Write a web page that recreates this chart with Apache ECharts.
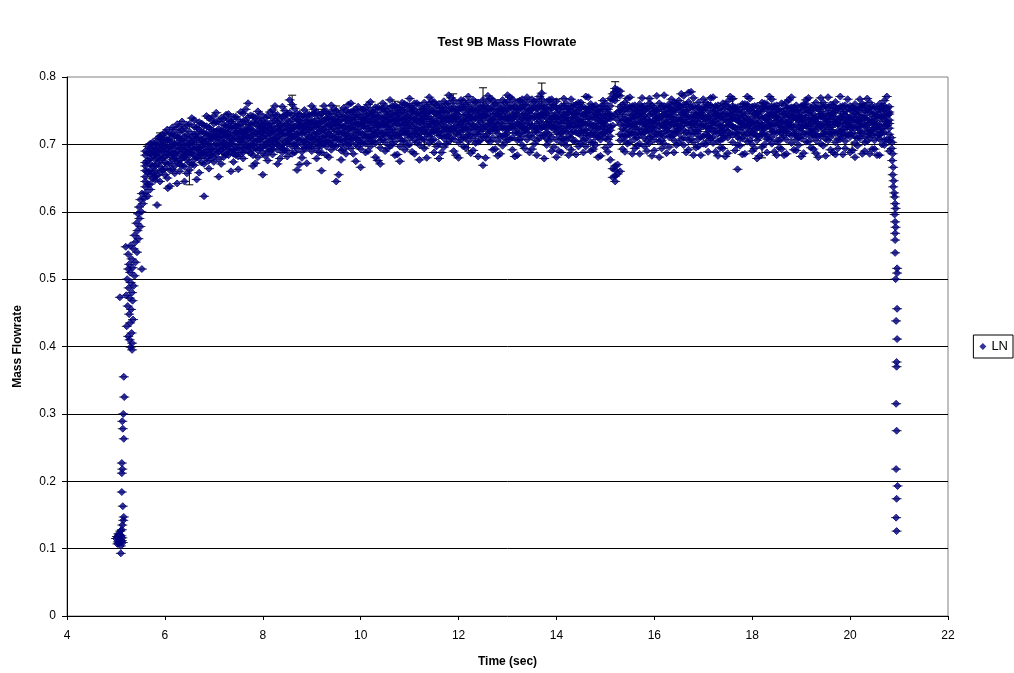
<!DOCTYPE html>
<html>
<head>
<meta charset="utf-8">
<title>Test 9B Mass Flowrate</title>
<script src="https://cdn.jsdelivr.net/npm/echarts@6/dist/echarts.min.js"></script>
<style>
  html, body { margin: 0; padding: 0; background: #fff; }
  #chart { width: 1014px; height: 673px; }
</style>
</head>
<body>
<div id="chart"></div>
<script>
// Start-up transient: time (s) and mass flowrate while the flow comes up
const riseTimes = [
  5.00, 5.02, 5.03, 5.04, 5.05, 5.06, 5.07, 5.08, 5.09, 5.10, 5.10, 5.11, 5.12, 5.13, 5.14,
  5.12, 5.13, 5.15, 5.16, 5.14, 5.12, 5.12, 5.13, 5.12, 5.16, 5.14, 5.13, 5.15, 5.17, 5.16,
  5.33, 5.30, 5.33, 5.28, 5.25, 5.32, 5.22, 5.29, 5.35, 5.27, 5.31, 5.24, 5.34, 5.08, 5.28,
  5.21, 5.33, 5.26, 5.36, 5.30, 5.23, 5.38, 5.29, 5.53, 5.25, 5.34, 5.27, 5.40, 5.32, 5.25,
  5.43, 5.36, 5.20, 5.30, 5.40, 5.46, 5.38, 5.44, 5.50, 5.42, 5.48, 5.45, 5.52, 5.47, 5.55,
  5.50, 5.58, 5.53, 5.84, 6.06
];
const riseValues = [
  0.115, 0.118, 0.107, 0.110, 0.122, 0.108, 0.121, 0.113, 0.126, 0.104, 0.093, 0.119, 0.112, 0.116, 0.109,
  0.128, 0.135, 0.142, 0.147, 0.163, 0.184, 0.212, 0.218, 0.227, 0.263, 0.278, 0.289, 0.300, 0.325, 0.355,
  0.395, 0.399, 0.405, 0.410, 0.415, 0.420, 0.430, 0.435, 0.440, 0.448, 0.455, 0.460, 0.468, 0.473, 0.472,
  0.476, 0.480, 0.487, 0.490, 0.495, 0.500, 0.505, 0.510, 0.515, 0.515, 0.517, 0.522, 0.525, 0.530, 0.537,
  0.540, 0.545, 0.548, 0.550, 0.555, 0.560, 0.565, 0.572, 0.578, 0.583, 0.590, 0.597, 0.600, 0.607, 0.612,
  0.618, 0.620, 0.627, 0.610, 0.635
];

// Steady run, first pass of samples: [time (s), mass flowrate samples near that time]
const steadyRows = [
  [5.6, 0.628, 0.645, 0.661, 0.652, 0.673, 0.684, 0.637, 0.668, 0.690],
  [5.7, 0.641, 0.655, 0.679, 0.662, 0.694, 0.633, 0.686, 0.671, 0.701],
  [5.8, 0.652, 0.668, 0.690, 0.647, 0.677, 0.702, 0.685, 0.661, 0.698],
  [5.9, 0.659, 0.676, 0.693, 0.708, 0.684, 0.667, 0.701, 0.645, 0.712],
  [6.0, 0.664, 0.681, 0.697, 0.673, 0.710, 0.689, 0.655, 0.703, 0.718],
  [6.1, 0.672, 0.690, 0.662, 0.705, 0.684, 0.716, 0.696, 0.638, 0.708],
  [6.2, 0.668, 0.687, 0.701, 0.679, 0.713, 0.694, 0.657, 0.722, 0.683],
  [6.3, 0.676, 0.660, 0.695, 0.709, 0.686, 0.671, 0.718, 0.700, 0.727],
  [6.4, 0.681, 0.698, 0.667, 0.712, 0.690, 0.705, 0.645, 0.724, 0.684],
  [6.5, 0.673, 0.692, 0.708, 0.684, 0.719, 0.662, 0.701, 0.730, 0.688],
  [6.6, 0.684, 0.700, 0.669, 0.715, 0.693, 0.726, 0.706, 0.678, 0.736],
  [6.7, 0.679, 0.695, 0.711, 0.687, 0.722, 0.703, 0.658, 0.733, 0.691],
  [6.8, 0.688, 0.671, 0.704, 0.717, 0.696, 0.728, 0.683, 0.709, 0.623],
  [6.9, 0.685, 0.701, 0.676, 0.714, 0.693, 0.725, 0.708, 0.739, 0.664],
  [7.0, 0.690, 0.707, 0.681, 0.719, 0.698, 0.731, 0.712, 0.674, 0.742],
  [7.1, 0.694, 0.678, 0.710, 0.723, 0.701, 0.689, 0.734, 0.716, 0.652],
  [7.2, 0.687, 0.703, 0.720, 0.695, 0.729, 0.681, 0.711, 0.738, 0.699],
  [7.3, 0.697, 0.713, 0.684, 0.726, 0.705, 0.692, 0.736, 0.718, 0.745],
  [7.4, 0.692, 0.708, 0.724, 0.686, 0.715, 0.731, 0.700, 0.674, 0.741],
  [7.5, 0.699, 0.682, 0.716, 0.728, 0.707, 0.694, 0.737, 0.720, 0.663],
  [7.6, 0.695, 0.711, 0.688, 0.723, 0.734, 0.703, 0.717, 0.746, 0.679],
  [7.7, 0.701, 0.717, 0.690, 0.729, 0.709, 0.740, 0.696, 0.722, 0.761],
  [7.8, 0.693, 0.706, 0.721, 0.684, 0.733, 0.714, 0.699, 0.742, 0.668],
  [7.9, 0.700, 0.715, 0.691, 0.727, 0.708, 0.738, 0.720, 0.681, 0.749],
  [8.0, 0.696, 0.712, 0.728, 0.687, 0.719, 0.704, 0.735, 0.724, 0.655],
  [8.1, 0.703, 0.690, 0.718, 0.731, 0.709, 0.742, 0.697, 0.725, 0.676],
  [8.2, 0.698, 0.714, 0.685, 0.727, 0.706, 0.739, 0.720, 0.693, 0.751],
  [8.3, 0.705, 0.720, 0.692, 0.733, 0.711, 0.700, 0.744, 0.726, 0.671],
  [8.4, 0.699, 0.716, 0.731, 0.688, 0.722, 0.708, 0.741, 0.694, 0.756],
  [8.5, 0.706, 0.691, 0.723, 0.736, 0.713, 0.701, 0.745, 0.728, 0.682],
  [8.6, 0.702, 0.719, 0.686, 0.730, 0.711, 0.743, 0.724, 0.697, 0.759],
  [8.7, 0.708, 0.724, 0.694, 0.737, 0.715, 0.700, 0.746, 0.729, 0.662],
  [8.8, 0.700, 0.717, 0.732, 0.689, 0.723, 0.708, 0.741, 0.726, 0.680],
  [8.9, 0.707, 0.722, 0.695, 0.735, 0.714, 0.745, 0.702, 0.730, 0.672],
  [9.0, 0.703, 0.718, 0.733, 0.690, 0.725, 0.709, 0.744, 0.697, 0.757],
  [9.1, 0.709, 0.694, 0.726, 0.738, 0.716, 0.748, 0.702, 0.731, 0.679],
  [9.2, 0.705, 0.721, 0.688, 0.734, 0.712, 0.745, 0.727, 0.698, 0.661],
  [9.3, 0.710, 0.726, 0.697, 0.739, 0.718, 0.704, 0.749, 0.732, 0.684],
  [9.4, 0.706, 0.722, 0.736, 0.692, 0.728, 0.713, 0.746, 0.700, 0.758],
  [9.5, 0.711, 0.697, 0.729, 0.741, 0.719, 0.706, 0.750, 0.733, 0.645],
  [9.6, 0.707, 0.724, 0.691, 0.737, 0.715, 0.748, 0.729, 0.700, 0.677],
  [9.7, 0.713, 0.728, 0.699, 0.742, 0.720, 0.707, 0.751, 0.735, 0.686],
  [9.8, 0.708, 0.725, 0.739, 0.694, 0.731, 0.716, 0.748, 0.702, 0.761],
  [9.9, 0.714, 0.700, 0.731, 0.744, 0.722, 0.709, 0.752, 0.737, 0.675],
  [10.0, 0.710, 0.727, 0.693, 0.740, 0.718, 0.750, 0.733, 0.703, 0.666],
  [10.1, 0.715, 0.731, 0.701, 0.745, 0.724, 0.710, 0.754, 0.738, 0.688],
  [10.2, 0.711, 0.728, 0.742, 0.697, 0.734, 0.719, 0.751, 0.705, 0.763],
  [10.3, 0.716, 0.702, 0.733, 0.747, 0.725, 0.712, 0.755, 0.739, 0.681],
  [10.4, 0.712, 0.729, 0.695, 0.743, 0.721, 0.752, 0.736, 0.706, 0.671],
  [10.5, 0.717, 0.733, 0.703, 0.748, 0.726, 0.713, 0.757, 0.741, 0.690],
  [10.6, 0.713, 0.730, 0.745, 0.698, 0.737, 0.722, 0.754, 0.708, 0.766],
  [10.7, 0.718, 0.704, 0.735, 0.750, 0.728, 0.714, 0.758, 0.742, 0.684],
  [10.8, 0.714, 0.731, 0.697, 0.746, 0.723, 0.755, 0.739, 0.709, 0.675],
  [10.9, 0.719, 0.736, 0.705, 0.751, 0.729, 0.716, 0.760, 0.744, 0.692],
  [11.0, 0.715, 0.732, 0.748, 0.700, 0.739, 0.724, 0.757, 0.710, 0.768],
  [11.1, 0.720, 0.706, 0.737, 0.752, 0.730, 0.717, 0.761, 0.745, 0.686],
  [11.2, 0.716, 0.733, 0.699, 0.748, 0.725, 0.758, 0.741, 0.711, 0.677],
  [11.3, 0.721, 0.737, 0.707, 0.753, 0.731, 0.718, 0.762, 0.746, 0.694],
  [11.4, 0.717, 0.734, 0.749, 0.702, 0.741, 0.726, 0.759, 0.712, 0.770],
  [11.5, 0.722, 0.707, 0.738, 0.754, 0.732, 0.719, 0.763, 0.747, 0.688],
  [11.6, 0.718, 0.735, 0.701, 0.750, 0.727, 0.760, 0.743, 0.713, 0.679],
  [11.7, 0.723, 0.739, 0.709, 0.755, 0.733, 0.720, 0.764, 0.748, 0.696],
  [11.8, 0.719, 0.736, 0.751, 0.704, 0.742, 0.727, 0.761, 0.714, 0.773],
  [11.9, 0.724, 0.708, 0.740, 0.756, 0.734, 0.721, 0.765, 0.749, 0.690],
  [12.0, 0.720, 0.737, 0.703, 0.751, 0.728, 0.761, 0.744, 0.714, 0.680],
  [12.1, 0.725, 0.741, 0.710, 0.756, 0.735, 0.722, 0.765, 0.750, 0.697],
  [12.2, 0.721, 0.738, 0.752, 0.705, 0.744, 0.729, 0.762, 0.715, 0.771],
  [12.3, 0.726, 0.709, 0.741, 0.757, 0.736, 0.722, 0.766, 0.750, 0.691],
  [12.4, 0.722, 0.738, 0.704, 0.752, 0.729, 0.762, 0.745, 0.715, 0.682],
  [12.5, 0.726, 0.742, 0.711, 0.757, 0.736, 0.723, 0.766, 0.751, 0.669],
  [12.6, 0.722, 0.739, 0.753, 0.706, 0.745, 0.730, 0.763, 0.716, 0.772],
  [12.7, 0.726, 0.710, 0.742, 0.757, 0.737, 0.723, 0.766, 0.751, 0.692],
  [12.8, 0.722, 0.739, 0.705, 0.752, 0.730, 0.762, 0.745, 0.716, 0.683],
  [12.9, 0.727, 0.742, 0.712, 0.757, 0.737, 0.724, 0.766, 0.751, 0.698],
  [13.0, 0.723, 0.739, 0.754, 0.707, 0.745, 0.731, 0.763, 0.717, 0.773],
  [13.1, 0.727, 0.710, 0.742, 0.758, 0.737, 0.724, 0.767, 0.752, 0.692],
  [13.2, 0.723, 0.740, 0.706, 0.753, 0.731, 0.763, 0.746, 0.717, 0.684],
  [13.3, 0.727, 0.743, 0.712, 0.758, 0.738, 0.725, 0.767, 0.752, 0.699],
  [13.4, 0.723, 0.740, 0.754, 0.707, 0.746, 0.731, 0.763, 0.718, 0.770],
  [13.5, 0.728, 0.711, 0.743, 0.758, 0.738, 0.725, 0.767, 0.752, 0.693],
  [13.6, 0.724, 0.740, 0.706, 0.753, 0.731, 0.763, 0.746, 0.718, 0.684],
  [13.7, 0.728, 0.744, 0.713, 0.758, 0.738, 0.725, 0.767, 0.752, 0.776],
  [13.8, 0.724, 0.740, 0.754, 0.708, 0.746, 0.732, 0.763, 0.718, 0.699],
  [13.9, 0.728, 0.711, 0.743, 0.759, 0.738, 0.725, 0.767, 0.753, 0.690],
  [14.0, 0.724, 0.741, 0.707, 0.754, 0.732, 0.764, 0.747, 0.718, 0.681],
  [14.1, 0.731, 0.716, 0.748, 0.702, 0.739, 0.757, 0.724, 0.709, 0.688],
  [14.2, 0.719, 0.744, 0.735, 0.761, 0.706, 0.727, 0.752, 0.698, 0.740],
  [14.3, 0.738, 0.710, 0.725, 0.749, 0.717, 0.756, 0.733, 0.692, 0.767],
  [14.4, 0.726, 0.751, 0.704, 0.741, 0.732, 0.718, 0.759, 0.745, 0.685],
  [14.5, 0.713, 0.737, 0.755, 0.728, 0.701, 0.746, 0.720, 0.762, 0.734],
  [14.6, 0.742, 0.721, 0.708, 0.753, 0.730, 0.716, 0.747, 0.697, 0.771],
  [14.7, 0.729, 0.755, 0.714, 0.737, 0.703, 0.748, 0.723, 0.760, 0.690],
  [14.8, 0.717, 0.740, 0.731, 0.758, 0.711, 0.726, 0.751, 0.699, 0.744],
  [14.9, 0.735, 0.707, 0.749, 0.722, 0.739, 0.756, 0.714, 0.731, 0.683],
  [15.0, 0.724, 0.752, 0.709, 0.743, 0.730, 0.718, 0.761, 0.736, 0.695],
  [15.1, 0.712, 0.738, 0.757, 0.726, 0.700, 0.745, 0.721, 0.677, 0.768],
  [15.2, 0.744, 0.765, 0.778, 0.783, 0.771, 0.662, 0.653, 0.668, 0.645],
  [15.3, 0.730, 0.756, 0.772, 0.779, 0.715, 0.741, 0.706, 0.660, 0.750],
  [15.4, 0.721, 0.744, 0.705, 0.737, 0.753, 0.728, 0.712, 0.762, 0.689],
  [15.5, 0.738, 0.714, 0.749, 0.727, 0.703, 0.756, 0.733, 0.719, 0.770],
  [15.6, 0.726, 0.751, 0.708, 0.740, 0.731, 0.715, 0.758, 0.694, 0.745],
  [15.7, 0.715, 0.739, 0.754, 0.722, 0.746, 0.701, 0.733, 0.760, 0.686],
  [15.8, 0.742, 0.718, 0.730, 0.757, 0.709, 0.736, 0.724, 0.750, 0.697],
  [15.9, 0.729, 0.753, 0.711, 0.744, 0.720, 0.761, 0.702, 0.735, 0.768],
  [16.0, 0.718, 0.736, 0.749, 0.707, 0.731, 0.755, 0.724, 0.691, 0.742],
  [16.1, 0.740, 0.713, 0.727, 0.752, 0.704, 0.738, 0.761, 0.719, 0.681],
  [16.2, 0.725, 0.749, 0.736, 0.712, 0.757, 0.701, 0.730, 0.745, 0.773],
  [16.3, 0.711, 0.733, 0.755, 0.726, 0.741, 0.718, 0.760, 0.696, 0.748],
  [16.4, 0.737, 0.720, 0.706, 0.750, 0.729, 0.744, 0.714, 0.762, 0.688],
  [16.5, 0.723, 0.754, 0.740, 0.716, 0.734, 0.702, 0.758, 0.727, 0.765],
  [16.6, 0.745, 0.710, 0.731, 0.759, 0.721, 0.748, 0.737, 0.699, 0.772],
  [16.7, 0.728, 0.752, 0.715, 0.741, 0.763, 0.706, 0.734, 0.777, 0.692],
  [16.8, 0.716, 0.739, 0.757, 0.725, 0.703, 0.747, 0.731, 0.769, 0.684],
  [16.9, 0.742, 0.722, 0.734, 0.708, 0.755, 0.719, 0.746, 0.762, 0.697],
  [17.0, 0.730, 0.756, 0.712, 0.744, 0.727, 0.739, 0.701, 0.751, 0.767],
  [17.1, 0.719, 0.735, 0.750, 0.706, 0.742, 0.724, 0.759, 0.713, 0.689],
  [17.2, 0.738, 0.711, 0.728, 0.754, 0.733, 0.748, 0.719, 0.702, 0.770],
  [17.3, 0.724, 0.747, 0.739, 0.716, 0.758, 0.730, 0.705, 0.743, 0.683],
  [17.4, 0.713, 0.736, 0.752, 0.727, 0.744, 0.708, 0.761, 0.721, 0.694],
  [17.5, 0.741, 0.720, 0.733, 0.756, 0.710, 0.746, 0.728, 0.764, 0.687],
  [17.6, 0.727, 0.751, 0.714, 0.738, 0.726, 0.757, 0.703, 0.744, 0.768],
  [17.7, 0.716, 0.740, 0.755, 0.722, 0.735, 0.711, 0.749, 0.699, 0.663],
  [17.8, 0.743, 0.725, 0.709, 0.748, 0.731, 0.760, 0.718, 0.736, 0.685],
  [17.9, 0.729, 0.754, 0.737, 0.715, 0.746, 0.704, 0.759, 0.724, 0.771],
  [18.0, 0.718, 0.733, 0.750, 0.727, 0.741, 0.713, 0.756, 0.700, 0.690],
  [18.1, 0.739, 0.712, 0.745, 0.724, 0.757, 0.731, 0.706, 0.748, 0.679],
  [18.2, 0.726, 0.749, 0.716, 0.738, 0.729, 0.754, 0.721, 0.762, 0.696],
  [18.3, 0.714, 0.737, 0.753, 0.708, 0.743, 0.726, 0.760, 0.732, 0.688],
  [18.4, 0.742, 0.723, 0.730, 0.756, 0.711, 0.747, 0.719, 0.701, 0.767],
  [18.5, 0.728, 0.752, 0.740, 0.717, 0.735, 0.758, 0.705, 0.745, 0.684],
  [18.6, 0.717, 0.734, 0.749, 0.726, 0.761, 0.710, 0.742, 0.722, 0.693],
  [18.7, 0.740, 0.719, 0.707, 0.753, 0.732, 0.746, 0.726, 0.763, 0.686],
  [18.8, 0.725, 0.748, 0.736, 0.713, 0.755, 0.729, 0.702, 0.741, 0.770],
  [18.9, 0.713, 0.738, 0.751, 0.729, 0.744, 0.716, 0.758, 0.707, 0.691],
  [19.0, 0.741, 0.724, 0.733, 0.757, 0.709, 0.748, 0.720, 0.736, 0.682],
  [19.1, 0.727, 0.753, 0.715, 0.740, 0.728, 0.760, 0.704, 0.747, 0.766],
  [19.2, 0.718, 0.736, 0.750, 0.723, 0.743, 0.711, 0.755, 0.731, 0.695],
  [19.3, 0.739, 0.714, 0.729, 0.754, 0.734, 0.720, 0.706, 0.762, 0.687],
  [19.4, 0.726, 0.749, 0.741, 0.712, 0.757, 0.730, 0.745, 0.701, 0.769],
  [19.5, 0.715, 0.733, 0.756, 0.728, 0.719, 0.746, 0.708, 0.738, 0.683],
  [19.6, 0.743, 0.722, 0.711, 0.750, 0.737, 0.725, 0.759, 0.716, 0.692],
  [19.7, 0.730, 0.754, 0.738, 0.717, 0.748, 0.703, 0.733, 0.763, 0.685],
  [19.8, 0.719, 0.741, 0.727, 0.752, 0.714, 0.739, 0.756, 0.708, 0.771],
  [19.9, 0.737, 0.713, 0.749, 0.731, 0.722, 0.758, 0.705, 0.744, 0.694],
  [20.0, 0.725, 0.751, 0.716, 0.740, 0.735, 0.711, 0.757, 0.729, 0.688],
  [20.1, 0.712, 0.736, 0.753, 0.724, 0.746, 0.733, 0.702, 0.760, 0.681],
  [20.2, 0.740, 0.721, 0.734, 0.755, 0.709, 0.748, 0.727, 0.717, 0.767],
  [20.3, 0.728, 0.750, 0.712, 0.739, 0.726, 0.758, 0.743, 0.703, 0.690],
  [20.4, 0.716, 0.737, 0.748, 0.721, 0.754, 0.710, 0.732, 0.762, 0.686],
  [20.5, 0.741, 0.725, 0.706, 0.747, 0.735, 0.719, 0.756, 0.730, 0.693],
  [20.6, 0.729, 0.753, 0.739, 0.714, 0.744, 0.760, 0.708, 0.722, 0.684],
  [20.7, 0.718, 0.734, 0.751, 0.727, 0.707, 0.742, 0.757, 0.699, 0.765],
  [20.8, 0.736, 0.715, 0.745, 0.724, 0.756, 0.705, 0.731, 0.690, 0.748]
];

// Steady run, samples falling between the rows above
const steadyRowsB = [
  [5.65, 0.641, 0.688, 0.659, 0.676, 0.623, 0.697],
  [5.75, 0.668, 0.649, 0.703, 0.684, 0.657, 0.692],
  [5.85, 0.695, 0.672, 0.709, 0.654, 0.688, 0.681],
  [5.95, 0.679, 0.714, 0.662, 0.699, 0.690, 0.707],
  [6.05, 0.706, 0.685, 0.671, 0.722, 0.694, 0.650],
  [6.15, 0.678, 0.715, 0.699, 0.687, 0.725, 0.663],
  [6.25, 0.702, 0.689, 0.730, 0.674, 0.711, 0.642],
  [6.35, 0.693, 0.721, 0.680, 0.706, 0.668, 0.734],
  [6.45, 0.714, 0.677, 0.698, 0.729, 0.688, 0.657],
  [6.55, 0.687, 0.711, 0.739, 0.670, 0.703, 0.695],
  [6.65, 0.709, 0.694, 0.680, 0.725, 0.716, 0.648],
  [6.75, 0.697, 0.731, 0.706, 0.685, 0.719, 0.673],
  [6.85, 0.716, 0.689, 0.727, 0.701, 0.742, 0.679],
  [6.95, 0.693, 0.722, 0.708, 0.736, 0.684, 0.713],
  [7.05, 0.719, 0.700, 0.686, 0.733, 0.710, 0.747],
  [7.15, 0.706, 0.739, 0.692, 0.721, 0.715, 0.671],
  [7.25, 0.728, 0.698, 0.712, 0.685, 0.744, 0.719],
  [7.35, 0.701, 0.725, 0.690, 0.734, 0.708, 0.660],
  [7.45, 0.717, 0.693, 0.741, 0.709, 0.726, 0.684],
  [7.55, 0.730, 0.704, 0.719, 0.688, 0.748, 0.712],
  [7.65, 0.709, 0.735, 0.696, 0.722, 0.714, 0.752],
  [7.75, 0.723, 0.698, 0.743, 0.711, 0.687, 0.729],
  [7.85, 0.704, 0.731, 0.716, 0.739, 0.695, 0.672],
  [7.95, 0.726, 0.708, 0.694, 0.745, 0.718, 0.733],
  [8.05, 0.713, 0.740, 0.722, 0.699, 0.731, 0.683],
  [8.15, 0.731, 0.705, 0.748, 0.716, 0.690, 0.724],
  [8.25, 0.709, 0.735, 0.720, 0.744, 0.702, 0.757],
  [8.35, 0.727, 0.714, 0.697, 0.738, 0.721, 0.679],
  [8.45, 0.716, 0.743, 0.728, 0.703, 0.750, 0.691],
  [8.55, 0.734, 0.708, 0.721, 0.747, 0.715, 0.766],
  [8.65, 0.712, 0.739, 0.700, 0.726, 0.753, 0.688],
  [8.75, 0.729, 0.717, 0.745, 0.706, 0.735, 0.670],
  [8.85, 0.718, 0.741, 0.727, 0.751, 0.704, 0.694],
  [8.95, 0.736, 0.711, 0.723, 0.697, 0.744, 0.730],
  [9.05, 0.715, 0.746, 0.733, 0.708, 0.725, 0.752],
  [9.15, 0.731, 0.706, 0.719, 0.743, 0.699, 0.688],
  [9.25, 0.722, 0.749, 0.712, 0.736, 0.757, 0.701],
  [9.35, 0.740, 0.716, 0.729, 0.703, 0.745, 0.681],
  [9.45, 0.711, 0.737, 0.752, 0.724, 0.698, 0.733],
  [9.55, 0.728, 0.707, 0.744, 0.718, 0.735, 0.655],
  [9.65, 0.717, 0.741, 0.726, 0.754, 0.705, 0.692],
  [9.75, 0.735, 0.712, 0.700, 0.747, 0.723, 0.759],
  [9.85, 0.723, 0.750, 0.731, 0.709, 0.740, 0.686],
  [9.95, 0.706, 0.729, 0.744, 0.718, 0.756, 0.697],
  [10.05, 0.739, 0.715, 0.727, 0.752, 0.702, 0.733],
  [10.15, 0.724, 0.746, 0.710, 0.736, 0.759, 0.690],
  [10.25, 0.712, 0.733, 0.748, 0.721, 0.704, 0.742],
  [10.35, 0.741, 0.718, 0.730, 0.755, 0.727, 0.676],
  [10.45, 0.729, 0.753, 0.707, 0.738, 0.716, 0.761],
  [10.55, 0.717, 0.740, 0.726, 0.749, 0.733, 0.694],
  [10.65, 0.744, 0.722, 0.711, 0.757, 0.735, 0.700],
  [10.75, 0.731, 0.755, 0.738, 0.714, 0.747, 0.685],
  [10.85, 0.720, 0.737, 0.751, 0.728, 0.705, 0.762],
  [10.95, 0.742, 0.716, 0.733, 0.758, 0.724, 0.698],
  [11.05, 0.727, 0.749, 0.712, 0.739, 0.754, 0.689],
  [11.15, 0.714, 0.735, 0.746, 0.723, 0.761, 0.703],
  [11.25, 0.738, 0.721, 0.708, 0.752, 0.731, 0.744],
  [11.35, 0.726, 0.756, 0.741, 0.715, 0.747, 0.680],
  [11.45, 0.717, 0.734, 0.750, 0.729, 0.706, 0.764],
  [11.55, 0.745, 0.719, 0.732, 0.758, 0.724, 0.697],
  [11.65, 0.730, 0.754, 0.713, 0.740, 0.749, 0.688],
  [11.75, 0.712, 0.736, 0.747, 0.725, 0.760, 0.701],
  [11.85, 0.741, 0.722, 0.709, 0.753, 0.734, 0.769],
  [11.95, 0.728, 0.751, 0.739, 0.716, 0.745, 0.684],
  [12.05, 0.718, 0.733, 0.755, 0.730, 0.707, 0.766],
  [12.15, 0.744, 0.724, 0.735, 0.759, 0.711, 0.695],
  [12.25, 0.731, 0.748, 0.714, 0.740, 0.753, 0.687],
  [12.35, 0.715, 0.739, 0.750, 0.726, 0.763, 0.702],
  [12.45, 0.742, 0.719, 0.706, 0.755, 0.733, 0.746],
  [12.55, 0.727, 0.757, 0.743, 0.712, 0.749, 0.680],
  [12.65, 0.719, 0.735, 0.752, 0.731, 0.704, 0.768],
  [12.75, 0.746, 0.721, 0.733, 0.760, 0.726, 0.693],
  [12.85, 0.732, 0.753, 0.711, 0.741, 0.748, 0.686],
  [12.95, 0.714, 0.738, 0.749, 0.723, 0.762, 0.703],
  [13.05, 0.740, 0.725, 0.708, 0.754, 0.735, 0.770],
  [13.15, 0.729, 0.756, 0.742, 0.717, 0.747, 0.682],
  [13.25, 0.716, 0.733, 0.753, 0.729, 0.707, 0.765],
  [13.35, 0.745, 0.720, 0.736, 0.759, 0.723, 0.694],
  [13.45, 0.731, 0.751, 0.713, 0.739, 0.750, 0.688],
  [13.55, 0.718, 0.740, 0.755, 0.725, 0.764, 0.701],
  [13.65, 0.743, 0.722, 0.709, 0.757, 0.734, 0.771],
  [13.75, 0.727, 0.755, 0.744, 0.714, 0.748, 0.679],
  [13.85, 0.715, 0.734, 0.751, 0.730, 0.705, 0.766],
  [13.95, 0.742, 0.723, 0.737, 0.758, 0.727, 0.696],
  [14.05, 0.733, 0.752, 0.715, 0.741, 0.724, 0.690],
  [14.15, 0.720, 0.744, 0.757, 0.708, 0.736, 0.768],
  [14.25, 0.747, 0.726, 0.712, 0.753, 0.731, 0.684],
  [14.35, 0.729, 0.758, 0.740, 0.719, 0.705, 0.745],
  [14.45, 0.716, 0.735, 0.751, 0.727, 0.762, 0.697],
  [14.55, 0.744, 0.721, 0.706, 0.756, 0.733, 0.688],
  [14.65, 0.730, 0.753, 0.739, 0.713, 0.748, 0.770],
  [14.75, 0.718, 0.742, 0.756, 0.728, 0.703, 0.693],
  [14.85, 0.745, 0.724, 0.711, 0.750, 0.736, 0.681],
  [14.95, 0.732, 0.757, 0.743, 0.716, 0.727, 0.765],
  [15.05, 0.719, 0.738, 0.752, 0.707, 0.746, 0.689],
  [15.15, 0.741, 0.766, 0.775, 0.728, 0.664, 0.651],
  [15.25, 0.748, 0.773, 0.781, 0.736, 0.656, 0.670],
  [15.35, 0.723, 0.749, 0.735, 0.712, 0.759, 0.693],
  [15.45, 0.736, 0.714, 0.754, 0.729, 0.701, 0.768],
  [15.55, 0.717, 0.743, 0.727, 0.757, 0.738, 0.686],
  [15.65, 0.744, 0.722, 0.710, 0.751, 0.732, 0.698],
  [15.75, 0.731, 0.756, 0.741, 0.716, 0.748, 0.769],
  [15.85, 0.720, 0.737, 0.753, 0.727, 0.705, 0.690],
  [15.95, 0.746, 0.725, 0.712, 0.758, 0.733, 0.683],
  [16.05, 0.733, 0.751, 0.739, 0.715, 0.745, 0.772],
  [16.15, 0.716, 0.742, 0.757, 0.729, 0.706, 0.694],
  [16.25, 0.743, 0.720, 0.733, 0.754, 0.724, 0.687],
  [16.35, 0.730, 0.756, 0.712, 0.740, 0.749, 0.767],
  [16.45, 0.719, 0.735, 0.752, 0.727, 0.761, 0.699],
  [16.55, 0.747, 0.726, 0.708, 0.755, 0.737, 0.775],
  [16.65, 0.732, 0.759, 0.743, 0.718, 0.750, 0.688],
  [16.75, 0.721, 0.740, 0.756, 0.731, 0.708, 0.778],
  [16.85, 0.744, 0.716, 0.729, 0.753, 0.735, 0.695],
  [16.95, 0.728, 0.752, 0.741, 0.711, 0.747, 0.684],
  [17.05, 0.715, 0.737, 0.755, 0.726, 0.762, 0.700],
  [17.15, 0.742, 0.724, 0.709, 0.758, 0.731, 0.769],
  [17.25, 0.734, 0.757, 0.745, 0.719, 0.750, 0.689],
  [17.35, 0.718, 0.741, 0.728, 0.754, 0.706, 0.695],
  [17.45, 0.746, 0.722, 0.737, 0.759, 0.713, 0.682],
  [17.55, 0.729, 0.753, 0.716, 0.744, 0.736, 0.771],
  [17.65, 0.717, 0.738, 0.755, 0.725, 0.748, 0.691],
  [17.75, 0.743, 0.727, 0.708, 0.752, 0.733, 0.698],
  [17.85, 0.731, 0.756, 0.740, 0.714, 0.760, 0.686],
  [17.95, 0.720, 0.735, 0.751, 0.729, 0.706, 0.768],
  [18.05, 0.745, 0.723, 0.733, 0.757, 0.716, 0.694],
  [18.15, 0.732, 0.750, 0.711, 0.742, 0.727, 0.683],
  [18.25, 0.715, 0.739, 0.756, 0.724, 0.761, 0.700],
  [18.35, 0.744, 0.728, 0.707, 0.753, 0.735, 0.771],
  [18.45, 0.730, 0.757, 0.741, 0.718, 0.748, 0.689],
  [18.55, 0.719, 0.736, 0.752, 0.729, 0.705, 0.695],
  [18.65, 0.746, 0.721, 0.734, 0.758, 0.713, 0.684],
  [18.75, 0.733, 0.754, 0.716, 0.743, 0.727, 0.766],
  [18.85, 0.716, 0.740, 0.755, 0.722, 0.749, 0.692],
  [18.95, 0.742, 0.726, 0.710, 0.751, 0.736, 0.699],
  [19.05, 0.729, 0.756, 0.739, 0.715, 0.759, 0.687],
  [19.15, 0.718, 0.734, 0.750, 0.728, 0.704, 0.769],
  [19.25, 0.745, 0.723, 0.737, 0.757, 0.714, 0.693],
  [19.35, 0.731, 0.752, 0.712, 0.741, 0.726, 0.681],
  [19.45, 0.716, 0.739, 0.756, 0.723, 0.762, 0.698],
  [19.55, 0.743, 0.729, 0.706, 0.754, 0.734, 0.770],
  [19.65, 0.730, 0.758, 0.742, 0.717, 0.747, 0.688],
  [19.75, 0.720, 0.735, 0.753, 0.730, 0.708, 0.694],
  [19.85, 0.746, 0.722, 0.733, 0.757, 0.715, 0.685],
  [19.95, 0.732, 0.754, 0.714, 0.740, 0.727, 0.767],
  [20.05, 0.717, 0.741, 0.755, 0.725, 0.750, 0.691],
  [20.15, 0.744, 0.726, 0.709, 0.752, 0.735, 0.698],
  [20.25, 0.731, 0.757, 0.740, 0.716, 0.760, 0.686],
  [20.35, 0.719, 0.736, 0.751, 0.728, 0.705, 0.768],
  [20.45, 0.745, 0.722, 0.734, 0.756, 0.693, 0.714],
  [20.55, 0.730, 0.753, 0.713, 0.742, 0.727, 0.684],
  [20.65, 0.717, 0.740, 0.757, 0.723, 0.749, 0.700],
  [20.75, 0.743, 0.728, 0.707, 0.754, 0.734, 0.771]
];

// Shut-down transient
const dropTimes = [
  20.84, 20.86, 20.85, 20.87, 20.86, 20.88, 20.87, 20.89, 20.88, 20.90, 20.91, 20.92,
  20.93, 20.91, 20.92, 20.93, 20.92, 20.92, 20.92, 20.96, 20.96, 20.93, 20.96, 20.94,
  20.96, 20.95, 20.95, 20.94, 20.95, 20.94, 20.97, 20.95, 20.94, 20.95
];
const dropValues = [
  0.710, 0.703, 0.694, 0.686, 0.676, 0.666, 0.655, 0.646, 0.637, 0.628, 0.622, 0.612,
  0.605, 0.596, 0.585, 0.577, 0.568, 0.558, 0.539, 0.516, 0.509, 0.500, 0.456, 0.438,
  0.411, 0.377, 0.370, 0.315, 0.275, 0.218, 0.193, 0.174, 0.146, 0.126
];

// Samples whose error bars reach past the cloud: time, value, end of the bar
const errTimes = [5.90, 6.19, 6.50, 8.60, 9.21, 9.50, 10.70, 11.30, 11.89, 12.20, 12.50, 13.70, 14.00, 14.30, 14.75, 15.20, 17.60, 18.20, 20.04];
const errValues = [0.704, 0.703, 0.663, 0.752, 0.738, 0.741, 0.750, 0.710, 0.756, 0.705, 0.757, 0.758, 0.754, 0.700, 0.703, 0.783, 0.757, 0.700, 0.705];
const errEnds = [0.717, 0.714, 0.640, 0.773, 0.752, 0.757, 0.764, 0.696, 0.775, 0.690, 0.784, 0.791, 0.767, 0.687, 0.690, 0.793, 0.767, 0.680, 0.692];

const xTicks = { min: 4, max: 22, step: 2 };
const yTicks = { min: 0, max: 0.8, step: 0.1 };

// Assemble [time, value] pairs
const points = [];
riseTimes.forEach((t, i) => points.push([t, riseValues[i]]));
[steadyRows, steadyRowsB].forEach(rows => rows.forEach(row => {
  for (let k = 1; k < row.length; k++) points.push([row[0], row[k]]);
}));
dropTimes.forEach((t, i) => points.push([t, dropValues[i]]));

const errData = errTimes.map((t, i) => [t, errValues[i], errEnds[i]]);

const FONT = 'Arial, "Liberation Sans", Helvetica, sans-serif';
const NAVY = '#000080';
const chart = echarts.init(document.getElementById('chart'), null, { renderer: 'canvas' });

chart.setOption({
  animation: false,
  backgroundColor: '#ffffff',
  textStyle: { fontFamily: FONT, color: '#000' },
  title: {
    text: 'Test 9B Mass Flowrate',
    left: 'center',
    top: 31,
    textStyle: { fontFamily: FONT, fontSize: 13, fontWeight: 'bold', color: '#000' }
  },
  legend: {
    data: [{ name: 'LN', icon: 'diamond' }],
    right: 1,
    top: 335,
    orient: 'vertical',
    backgroundColor: '#fff',
    borderColor: '#000',
    borderWidth: 1,
    borderRadius: 0,
    padding: [5, 5, 5, 6],
    itemWidth: 7,
    itemHeight: 7,
    itemStyle: { color: NAVY, borderWidth: 0 },
    textStyle: { fontFamily: FONT, fontSize: 13, color: '#000' }
  },
  grid: {
    left: 67,
    right: 66,
    top: 77,
    bottom: 57,
    show: true,
    borderColor: '#808080',
    borderWidth: 1,
    backgroundColor: 'transparent'
  },
  xAxis: {
    type: 'value',
    min: xTicks.min,
    max: xTicks.max,
    interval: xTicks.step,
    name: 'Time (sec)',
    nameLocation: 'middle',
    nameGap: 40,
    nameTextStyle: { fontFamily: FONT, fontSize: 12, fontWeight: 'bold', color: '#000' },
    axisLine: { show: true, onZero: false, lineStyle: { color: '#000', width: 1 } },
    axisTick: { show: true, inside: false, length: 4, lineStyle: { color: '#000' } },
    axisLabel: { fontFamily: FONT, fontSize: 12, color: '#000', margin: 14 },
    splitLine: { show: false }
  },
  yAxis: {
    type: 'value',
    min: yTicks.min,
    max: yTicks.max,
    interval: yTicks.step,
    name: 'Mass Flowrate',
    nameLocation: 'middle',
    nameGap: 43,
    nameTextStyle: { fontFamily: FONT, fontSize: 12, fontWeight: 'bold', color: '#000' },
    axisLine: { show: true, onZero: false, lineStyle: { color: '#000', width: 1 } },
    axisTick: { show: true, inside: false, length: 5, lineStyle: { color: '#000' } },
    axisLabel: { fontFamily: FONT, fontSize: 12, color: '#000', margin: 11 },
    splitLine: { show: true, showMinLine: false, showMaxLine: false, lineStyle: { color: '#000', width: 1 } }
  },
  series: [
    {
      // vertical error bars with end caps
      type: 'custom',
      name: 'err',
      silent: true,
      z: 2,
      data: errData,
      renderItem: function (params, api) {
        const p0 = api.coord([api.value(0), api.value(1)]);
        const p1 = api.coord([api.value(0), api.value(2)]);
        const style = { stroke: '#000', lineWidth: 1 };
        return {
          type: 'group',
          children: [
            { type: 'line', shape: { x1: p0[0], y1: p0[1], x2: p1[0], y2: p1[1] }, style: style },
            { type: 'line', shape: { x1: p1[0] - 4, y1: p1[1], x2: p1[0] + 4, y2: p1[1] }, style: style }
          ]
        };
      }
    },
    {
      // short horizontal error bars on every sample
      type: 'scatter',
      name: 'xerr',
      silent: true,
      z: 2,
      symbol: 'rect',
      symbolSize: [10, 1],
      itemStyle: { color: '#000' },
      data: points
    },
    {
      type: 'scatter',
      name: 'LN',
      z: 3,
      symbol: 'diamond',
      symbolSize: 7,
      itemStyle: { color: NAVY, borderColor: NAVY, borderWidth: 1 },
      large: false,
      data: points
    }
  ]
});
</script>
</body>
</html>
